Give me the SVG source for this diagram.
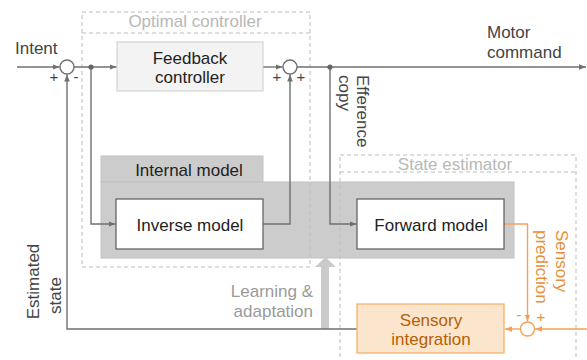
<svg xmlns="http://www.w3.org/2000/svg" width="587" height="360" viewBox="0 0 587 360">
  <style>
    text { font-family: "Liberation Sans", Arial, sans-serif; font-size: 17px; }
    .lbl { fill: #222; }
    .dim { fill: #444; }
    .faint { fill: #b8b8b8; }
    .learn { fill: #9a9a9a; }
    .orange-t { fill: #e69138; }
    .si-t { fill: #b45f06; }
    .sign { font-size: 15px; fill: #444; }
    .osign { font-size: 15px; fill: #e69138; }
    .dash { fill: none; stroke: #bdbdbd; stroke-width: 1; stroke-dasharray: 4 3; }
    .wire { fill: none; stroke: #707070; stroke-width: 1.4; }
    .owire { fill: none; stroke: #f2a258; stroke-width: 1.4; }
    .sum { fill: #fff; stroke: #707070; stroke-width: 1.4; }
    .osum { fill: #fff; stroke: #f2a258; stroke-width: 1.4; }
    .box { fill: #fff; stroke: #666; stroke-width: 1.3; }
  </style>
  <defs>
    <marker id="ah" markerUnits="userSpaceOnUse" markerWidth="8" markerHeight="8" refX="7" refY="4" orient="auto">
      <path d="M0,1.2 L7,4 L0,6.8 Z" fill="#707070"/>
    </marker>
    <marker id="oah" markerUnits="userSpaceOnUse" markerWidth="8" markerHeight="8" refX="7" refY="4" orient="auto">
      <path d="M0,1.2 L7,4 L0,6.8 Z" fill="#f2a258"/>
    </marker>
  </defs>

  <!-- internal model container -->
  <g id="internal-model">
    <rect x="101" y="156" width="162" height="26" fill="#cccccc" stroke="#c2c2c2" stroke-width="1"/>
    <rect x="101" y="182" width="413" height="76" fill="#cccccc" stroke="#c2c2c2" stroke-width="1"/>
    <text x="189" y="176" text-anchor="middle" class="lbl">Internal model</text>
  </g>

  <!-- dashed groupings -->
  <g id="optimal-controller">
    <rect x="82" y="12" width="228" height="255" class="dash"/>
    <line x1="82" y1="33" x2="310" y2="33" class="dash"/>
    <text x="195" y="27" text-anchor="middle" class="faint">Optimal controller</text>
  </g>
  <g id="state-estimator">
    <rect x="340" y="155" width="236" height="215" class="dash"/>
    <line x1="340" y1="172" x2="576" y2="172" class="dash"/>
    <text x="455" y="170" text-anchor="middle" class="faint">State estimator</text>
  </g>

  <!-- learning & adaptation arrow -->
  <g id="learning">
    <polygon points="321,329 321,267 315,267 325.5,257 336,267 329,267 329,329" fill="#cbcbcb"/>
    <text x="313" y="297" text-anchor="end" class="learn">Learning &amp;</text>
    <text x="313" y="317" text-anchor="end" class="learn">adaptation</text>
  </g>

  <!-- connectors -->
  <g id="connectors">
    <path d="M17,67 H59.5" class="wire" marker-end="url(#ah)"/>
    <path d="M74,67 H116.5" class="wire" marker-end="url(#ah)"/>
    <path d="M91,67 V224 H115.5" class="wire" marker-end="url(#ah)"/>
    <path d="M263,67 H282.5" class="wire" marker-end="url(#ah)"/>
    <path d="M263,224 H290 V74.5" class="wire" marker-end="url(#ah)"/>
    <path d="M297,67 H586" class="wire" marker-end="url(#ah)"/>
    <path d="M330,67 V224 H356.5" class="wire" marker-end="url(#ah)"/>
    <path d="M357,329 H67 V74.5" class="wire" marker-end="url(#ah)"/>
    <path d="M504,224 H527.5 V321.5" class="owire" marker-end="url(#oah)"/>
    <path d="M587,329 H535" class="owire" marker-end="url(#oah)"/>
    <path d="M520.5,329 H505" class="owire" marker-end="url(#oah)"/>
    <circle cx="91" cy="67" r="2.6" fill="#666"/>
    <circle cx="330" cy="67" r="2.6" fill="#666"/>
  </g>

  <!-- summing junctions -->
  <g id="sum-intent">
    <circle cx="67" cy="67" r="7" class="sum"/>
    <text x="54" y="82" text-anchor="middle" class="sign">+</text>
    <text x="76" y="82" text-anchor="middle" class="sign">-</text>
  </g>
  <g id="sum-command">
    <circle cx="290" cy="67" r="7" class="sum"/>
    <text x="277" y="82" text-anchor="middle" class="sign">+</text>
    <text x="301" y="82" text-anchor="middle" class="sign">+</text>
  </g>
  <g id="sum-sensory">
    <circle cx="527.5" cy="329" r="7" class="osum"/>
    <text x="519" y="320" text-anchor="middle" class="osign">-</text>
    <text x="541" y="322" text-anchor="middle" class="osign">+</text>
  </g>

  <!-- nodes -->
  <g id="feedback-controller">
    <rect x="117" y="42" width="146" height="49" fill="#f3f3f3" stroke="#cccccc" stroke-width="1"/>
    <text x="190" y="64" text-anchor="middle" class="lbl">Feedback</text>
    <text x="190" y="83" text-anchor="middle" class="lbl">controller</text>
  </g>
  <g id="inverse-model">
    <rect x="116" y="199" width="147" height="50" class="box"/>
    <text x="190" y="231" text-anchor="middle" class="lbl">Inverse model</text>
  </g>
  <g id="forward-model">
    <rect x="357" y="199" width="147" height="50" class="box"/>
    <text x="431" y="231" text-anchor="middle" class="lbl">Forward model</text>
  </g>
  <g id="sensory-integration">
    <rect x="357" y="304" width="147" height="49" fill="#fce5cd" stroke="#f6b26b" stroke-width="1.3"/>
    <text x="431" y="326" text-anchor="middle" class="si-t">Sensory</text>
    <text x="431" y="345" text-anchor="middle" class="si-t">integration</text>
  </g>

  <!-- signal labels -->
  <g id="labels">
    <text x="15" y="54" class="dim">Intent</text>
    <text x="487" y="38" class="dim">Motor</text>
    <text x="487" y="58" class="dim">command</text>
    <text transform="translate(357,75) rotate(90)" class="dim">Efference</text>
    <text transform="translate(338.5,75) rotate(90)" class="dim">copy</text>
    <text transform="translate(556,230) rotate(90)" class="orange-t">Sensory</text>
    <text transform="translate(536,230) rotate(90)" class="orange-t">prediction</text>
    <text transform="translate(39,281.5) rotate(-90)" text-anchor="middle" class="dim">Estimated</text>
    <text transform="translate(60.5,295.5) rotate(-90)" text-anchor="middle" class="dim">state</text>
  </g>
</svg>
